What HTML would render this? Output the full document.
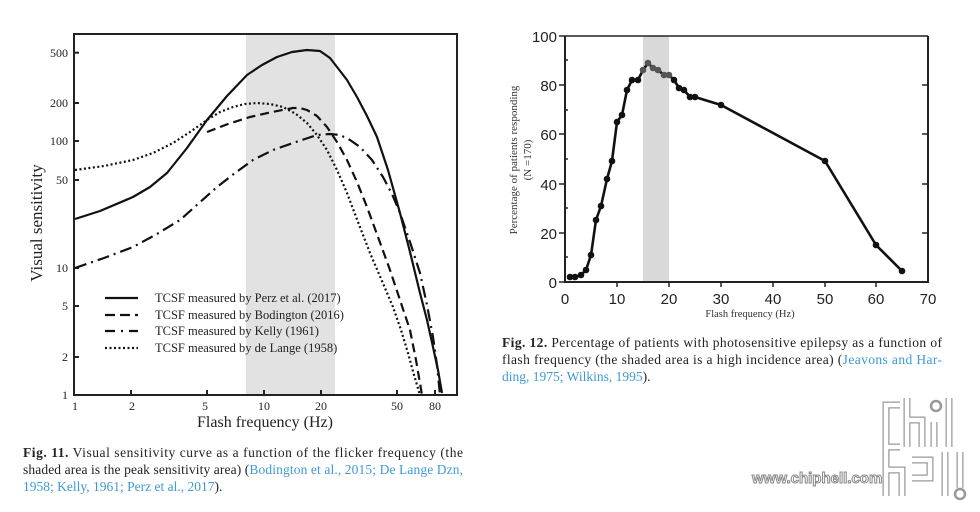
<!DOCTYPE html>
<html><head><meta charset="utf-8"><style>
html,body{margin:0;padding:0;background:#fff;width:980px;height:512px;overflow:hidden}
</style></head><body>
<svg width="980" height="512" viewBox="0 0 980 512" xmlns="http://www.w3.org/2000/svg">
<!-- LEFT CHART -->
<rect x="246" y="34" width="89" height="361" fill="#e2e2e2"/>
<rect x="74" y="34" width="383" height="361" fill="none" stroke="#222" stroke-width="2"/>
<g stroke="#222" stroke-width="2">
<line x1="74" y1="52.7" x2="79" y2="52.7"/><line x1="74" y1="103" x2="79" y2="103"/><line x1="74" y1="141" x2="79" y2="141"/><line x1="74" y1="180" x2="79" y2="180"/><line x1="74" y1="268" x2="79" y2="268"/><line x1="74" y1="306" x2="79" y2="306"/><line x1="74" y1="357" x2="79" y2="357"/>
<line x1="131" y1="395" x2="131" y2="390"/><line x1="207" y1="395" x2="207" y2="390"/><line x1="264" y1="395" x2="264" y2="390"/><line x1="321" y1="395" x2="321" y2="390"/><line x1="397" y1="395" x2="397" y2="390"/><line x1="435" y1="395" x2="435" y2="390"/>
</g>
<g font-family="Liberation Serif,serif" font-size="12" fill="#222" text-anchor="end">
<text x="68" y="57">500</text><text x="68" y="107">200</text><text x="68" y="145">100</text><text x="68" y="184">50</text><text x="68" y="272">10</text><text x="68" y="310">5</text><text x="68" y="361">2</text><text x="68" y="399">1</text>
</g>
<g font-family="Liberation Serif,serif" font-size="12" fill="#222" text-anchor="middle">
<text x="75" y="410">1</text><text x="132" y="410">2</text><text x="205" y="410">5</text><text x="264" y="410">10</text><text x="321" y="410">20</text><text x="397" y="410">50</text><text x="435" y="410">80</text>
</g>
<text x="265" y="427" font-family="Liberation Serif,serif" font-size="16" fill="#222" text-anchor="middle">Flash frequency  (Hz)</text>
<text transform="translate(42,223) rotate(-90)" font-family="Liberation Serif,serif" font-size="17" fill="#222" text-anchor="middle">Visual sensitivity</text>
<g fill="none" stroke="#111" stroke-width="2.2" stroke-linejoin="round" stroke-linecap="butt">
<polyline points="75,219 100,211 133,197 150,187 167,173 187,148 207,120 227,96 247,75 262,65 277,57 292,52 307,50 320,51 330,58 337,67 347,80 357,97 367,116 377,137 388,170 400,213 410,252 420,293 427,320 433,347 438,370 442,393"/>
<polyline stroke-dasharray="9,5" points="207,132 228,124 250,117 272,112 293,108 300,108 307,110 317,116 327,127 337,142 347,160 357,182 367,207 378,237 390,270 400,300 410,330 416,360 422,395"/>
<polyline stroke-dasharray="12,5,2,5" points="75,268 104,258 133,247 157,234 180,220 198,204 217,187 235,173 253,160 273,150 293,143 305,139 317,135 330,134 340,135 350,140 360,147 372,160 383,177 392,194 400,213 410,242 420,273 427,305 433,337 437,365 440,395"/>
<polyline stroke-dasharray="2,2.5" points="75,170 104,166 133,160 153,153 173,143 190,132 207,120 220,112 233,107 245,104 257,103 270,104 283,107 296,114 307,123 317,135 327,150 337,170 347,193 358,222 370,253 382,281 393,307 401,330 408,353 414,375 420,395"/>
</g>
<g stroke="#111" stroke-width="2.2">
<line x1="105" y1="298" x2="138" y2="298"/>
<line x1="105" y1="315" x2="138" y2="315" stroke-dasharray="10,5"/>
<line x1="105" y1="331" x2="138" y2="331" stroke-dasharray="10,6,2,6"/>
<line x1="105" y1="348" x2="138" y2="348" stroke-dasharray="2,2.5"/>
</g>
<g font-family="Liberation Serif,serif" font-size="12.5" fill="#222">
<text x="155" y="302">TCSF measured by Perz et al. (2017)</text>
<text x="155" y="319">TCSF measured by Bodington (2016)</text>
<text x="155" y="335">TCSF measured by Kelly  (1961)</text>
<text x="155" y="352">TCSF measured by de Lange (1958)</text>
</g>
<g font-family="Liberation Serif,serif" font-size="13.5" fill="#222">
<text x="23" y="457" textLength="440" lengthAdjust="spacing"><tspan font-weight="bold">Fig. 11.</tspan> Visual sensitivity curve as a function of the flicker frequency (the</text>
<text x="23" y="474" textLength="440" lengthAdjust="spacing">shaded area is the peak sensitivity area) (<tspan fill="#3d9ad6">Bodington et al., 2015; De Lange Dzn,</tspan></text>
<text x="23" y="491"><tspan fill="#3d9ad6">1958; Kelly, 1961; Perz et al., 2017</tspan>).</text>
</g>

<!-- RIGHT CHART -->
<rect x="643" y="36" width="26" height="246" fill="#d9d9d9"/>
<g stroke="#222" stroke-width="2" fill="none">
<polyline points="565,36 565,282 928,282 928,36"/>
<line x1="565" y1="36" x2="928" y2="36" stroke-width="1.5"/>
</g>
<g stroke="#222" stroke-width="1.5">
<line x1="565" y1="36" x2="559" y2="36"/><line x1="565" y1="85" x2="559" y2="85"/><line x1="565" y1="134" x2="559" y2="134"/><line x1="565" y1="184" x2="559" y2="184"/><line x1="565" y1="233" x2="559" y2="233"/><line x1="565" y1="282" x2="559" y2="282"/>
<line x1="565" y1="60" x2="568" y2="60"/><line x1="565" y1="110" x2="568" y2="110"/><line x1="565" y1="159" x2="568" y2="159"/><line x1="565" y1="208" x2="568" y2="208"/><line x1="565" y1="257" x2="568" y2="257"/>
<line x1="928" y1="85" x2="922" y2="85"/><line x1="928" y1="134" x2="922" y2="134"/><line x1="928" y1="184" x2="922" y2="184"/><line x1="928" y1="233" x2="922" y2="233"/>
<line x1="617" y1="282" x2="617" y2="287"/><line x1="669" y1="282" x2="669" y2="287"/><line x1="721" y1="282" x2="721" y2="287"/><line x1="773" y1="282" x2="773" y2="287"/><line x1="825" y1="282" x2="825" y2="287"/><line x1="876" y1="282" x2="876" y2="287"/>
</g>
<g font-family="Liberation Sans,sans-serif" font-size="15" fill="#222" text-anchor="end">
<text x="557" y="42">100</text><text x="557" y="91">80</text><text x="557" y="140">60</text><text x="557" y="190">40</text><text x="557" y="239">20</text><text x="557" y="288">0</text>
</g>
<g font-family="Liberation Sans,sans-serif" font-size="15" fill="#222" text-anchor="middle">
<text x="565" y="304">0</text><text x="617" y="304">10</text><text x="669" y="304">20</text><text x="721" y="304">30</text><text x="773" y="304">40</text><text x="825" y="304">50</text><text x="876" y="304">60</text><text x="928" y="304">70</text>
</g>
<text x="750" y="317" font-family="Liberation Serif,serif" font-size="10.5" fill="#333" text-anchor="middle">Flash frequency (Hz)</text>
<g font-family="Liberation Serif,serif" font-size="11" fill="#333" text-anchor="middle">
<text transform="translate(517,160) rotate(-90)">Percentage of patients responding</text>
<text transform="translate(531,160) rotate(-90)">(N =170)</text>
</g>
<polyline fill="none" stroke="#111" stroke-width="2.6" stroke-linejoin="round" points="570,277 575,277 581,275 586,270 591,255 596,220 601,206 607,179 612,161 617,122 622,115 627,90 632,80 638,80 643,70 648,63 653,68 658,70 664,75 669,75 674,80 679,88 684,90 690,97 695,97 721,105 825,161 876,245 902,271"/>
<g fill="#111">
<circle cx="570" cy="277" r="3.3"/><circle cx="575" cy="277" r="3.3"/><circle cx="581" cy="275" r="3.3"/><circle cx="586" cy="270" r="3.3"/><circle cx="591" cy="255" r="3.3"/><circle cx="596" cy="220" r="3.3"/><circle cx="601" cy="206" r="3.3"/><circle cx="607" cy="179" r="3.3"/><circle cx="612" cy="161" r="3.3"/><circle cx="617" cy="122" r="3.3"/><circle cx="622" cy="115" r="3.3"/><circle cx="627" cy="90" r="3.3"/><circle cx="632" cy="80" r="3.3"/><circle cx="638" cy="80" r="3.3"/><circle cx="674" cy="80" r="3.3"/><circle cx="679" cy="88" r="3.3"/><circle cx="684" cy="90" r="3.3"/><circle cx="690" cy="97" r="3.3"/><circle cx="695" cy="97" r="3.3"/><circle cx="721" cy="105" r="3.3"/><circle cx="825" cy="161" r="3.3"/><circle cx="876" cy="245" r="3.3"/><circle cx="902" cy="271" r="3.3"/>
</g>
<g fill="#555">
<circle cx="643" cy="70" r="3.3"/><circle cx="648" cy="63" r="3.3"/><circle cx="653" cy="68" r="3.3"/><circle cx="658" cy="70" r="3.3"/><circle cx="664" cy="75" r="3.3"/><circle cx="669" cy="75" r="3.3"/>
</g>
<g font-family="Liberation Serif,serif" font-size="13.5" fill="#222">
<text x="502" y="347" textLength="440" lengthAdjust="spacing"><tspan font-weight="bold">Fig. 12.</tspan> Percentage of patients with photosensitive epilepsy as a function of</text>
<text x="502" y="364" textLength="440" lengthAdjust="spacing">flash frequency (the shaded area is a high incidence area) (<tspan fill="#3d9ad6">Jeavons and Har-</tspan></text>
<text x="502" y="381"><tspan fill="#3d9ad6">ding, 1975; Wilkins, 1995</tspan>).</text>
</g>

<!-- WATERMARK -->
<g>
<text x="752" y="483" font-family="Liberation Sans,sans-serif" font-size="15" font-weight="bold" fill="#fff" stroke="#888" stroke-width="1">www.chiphell.com</text>
<g fill="none" stroke="#999" stroke-width="7" stroke-linejoin="miter">
<path d="M900 447 L886 447 L886 405 L900 405"/>
<path d="M907 398 L907 447 M907 420 L922 420 L922 447"/>
<path d="M934 422 L934 447"/>
<path d="M949 398 L949 447"/>
<path d="M886 447 L886 496 M886 470 L902 470 L902 496"/>
<path d="M912 460 L930 460 L930 478 L912 478"/>
<path d="M945 452 L945 496"/>
<path d="M960 452 L960 488"/>
</g>
<g fill="none" stroke="#fff" stroke-width="4.5">
<path d="M900 447 L886 447 L886 405 L900 405"/>
<path d="M907 398 L907 447 M907 420 L922 420 L922 447"/>
<path d="M934 422 L934 447"/>
<path d="M949 398 L949 447"/>
<path d="M886 447 L886 496 M886 470 L902 470 L902 496"/>
<path d="M912 460 L930 460 L930 478 L912 478"/>
<path d="M945 452 L945 496"/>
<path d="M960 452 L960 488"/>
</g>
<circle cx="936" cy="406" r="5" fill="#fff" stroke="#999" stroke-width="2.5"/>
<circle cx="960" cy="494" r="5" fill="#fff" stroke="#999" stroke-width="2.5"/>
</g>
</svg>
</body></html>
